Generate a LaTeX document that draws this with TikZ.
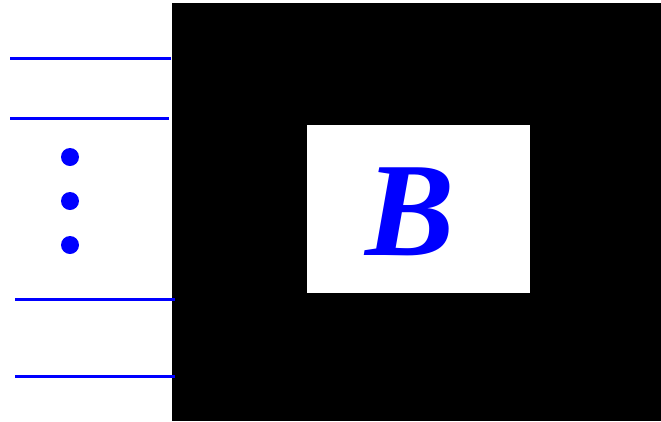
\documentclass[tikz,border=0pt]{standalone}
\usepackage{fontspec}
\newfontfamily\bfont{Liberation Serif}
\begin{document}
\begin{tikzpicture}[x=1pt,y=-1pt,
  wire/.style={draw=blue,line width=3pt},
  dotmark/.style={circle,fill=blue,inner sep=0pt,minimum size=18pt}]
\useasboundingbox[fill=white] (0,0) rectangle (661,421);
\fill[black] (172,3) rectangle (661,421);
\fill[white] (307,125) rectangle (530,293);
\node[inner sep=0pt,text=blue,font=\bfont\bfseries\itshape\fontsize{134}{134}\selectfont] (b) at (410,212) {B};
\coordinate (l1a) at (10,58); \coordinate (l1b) at (171,58);
\coordinate (l2a) at (10,118); \coordinate (l2b) at (169,118);
\coordinate (l3a) at (15,299.5); \coordinate (l3b) at (175,299.5);
\coordinate (l4a) at (15,376.5); \coordinate (l4b) at (175,376.5);
\draw[wire] (l1a) -- (l1b);
\draw[wire] (l2a) -- (l2b);
\draw[wire] (l3a) -- (l3b);
\draw[wire] (l4a) -- (l4b);
\node[dotmark] (d1) at (70,157) {};
\node[dotmark] (d2) at (70,201) {};
\node[dotmark] (d3) at (70,245) {};
\end{tikzpicture}
\end{document}
